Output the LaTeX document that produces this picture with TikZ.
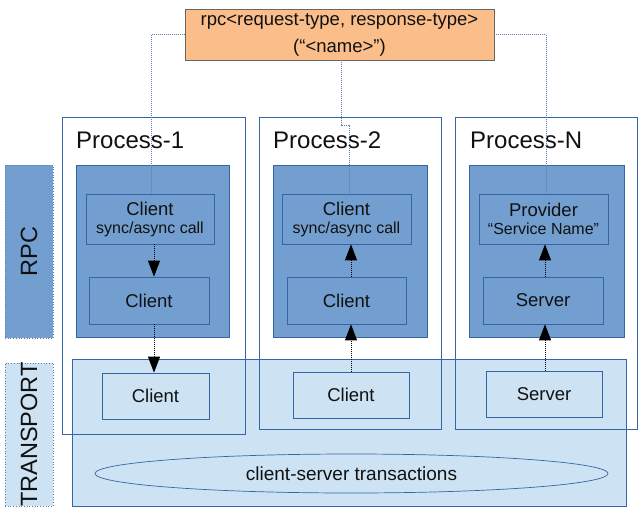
\documentclass[tikz,border=0pt]{standalone}
\usepackage{fontspec}
\setmainfont{Liberation Sans}
\usetikzlibrary{arrows.meta,shapes.geometric}
\definecolor{dblue}{HTML}{729FCF}
\definecolor{bord}{HTML}{3465A4}
\definecolor{lblue}{HTML}{CDE3F3}
\definecolor{orng}{HTML}{FBBE8A}
\definecolor{dotc}{HTML}{5B7DB1}
\definecolor{txt}{HTML}{111111}
\begin{document}
\begin{tikzpicture}[x=1pt,y=-1pt,
  wh/.style 2 args={minimum width=#1pt, minimum height=#2pt, inner sep=0pt},
  proc/.style={draw=bord, line width=0.7pt},
  dark/.style={draw=bord, fill=dblue, line width=0.7pt},
  inbox/.style={draw=bord, line width=0.7pt, text=txt, align=center, font=\fontsize{18.5}{20}\selectfont},
  tbox/.style={draw=bord, fill=lblue, line width=0.7pt, text=txt, align=center, font=\fontsize{18.5}{20}\selectfont},
  side/.style={draw=dotc, line width=0.7pt, dotted, text=txt},
  sidelab/.style={rotate=90, text=txt, font=\fontsize{23.5}{25}\selectfont, inner sep=0pt},
  title/.style={anchor=base west, inner sep=0pt, text=txt, font=\fontsize{24}{26}\selectfont},
  conn/.style={draw=dotc, line width=0.8pt, dash pattern=on 1pt off 1pt},
  arr/.style={draw=black, line width=0.8pt, dash pattern=on 1pt off 1pt, -{Triangle[length=16pt,width=12pt,fill=black]}}
]
\useasboundingbox (0,0) rectangle (642,514);
% transport band
\node[tbox, wh={554}{147}] (tr) at (349,432.5) {};
\node[draw=bord, fill=lblue, line width=0.7pt, ellipse, wh={513}{39}, text=txt, font=\fontsize{19}{20}\selectfont] (ell) at (351.5,473.5) {client-server transactions};
% side labels
\node[side, fill=dblue, wh={48}{173}] (rpcside) at (29,251.5) {};
\node[sidelab] (rpclab) at (rpcside.center) {RPC};
\node[side, fill=lblue, wh={48}{143}] (trside) at (29,434.5) {};
\node[sidelab] (trlab) at (trside.center) {TRANSPORT};
% process boxes
\node[proc, wh={183}{317}] (p1) at (153.5,275.5) {};
\node[proc, wh={182}{312}] (p2) at (350,273) {};
\node[proc, wh={182}{312}] (p3) at (546,273) {};
\node[title] (t1) at (76,148) {Process-1};
\node[title] (t2) at (273,148) {Process-2};
\node[title] (t3) at (470,148) {Process-N};
% rpc layer boxes
\node[dark, wh={153}{172}] (d1) at (152.5,251) {};
\node[dark, wh={154}{172}] (d2) at (350,251) {};
\node[dark, wh={155}{172}] (d3) at (546.5,251) {};
\node[inbox, wh={128}{50}] (u1) at (150,219) {Client\\[-2pt]{\fontsize{16}{17}\selectfont sync/async call}};
\node[inbox, wh={129}{50}] (u2) at (346.5,219) {Client\\[-2pt]{\fontsize{16}{17}\selectfont sync/async call}};
\node[inbox, wh={129}{50}] (u3) at (543.5,219) {Provider\\[-2pt]{\fontsize{16}{17}\selectfont “Service Name”}};
\node[inbox, wh={120}{47}] (l1) at (149,300.5) {Client};
\node[inbox, wh={119}{47}] (l2) at (346.5,300.5) {Client};
\node[inbox, wh={120}{47}] (l3) at (543,300.5) {Server};
% transport boxes
\node[tbox, wh={107}{46}] (c1) at (155.5,396) {Client};
\node[tbox, wh={116}{46}] (c2) at (351,395) {Client};
\node[tbox, wh={116}{46}] (c3) at (544,394) {Server};
% rpc definition
\node[draw=gray!80!black, fill=orng, line width=0.7pt, wh={309}{51}, align=center, text=txt, font=\fontsize{18.5}{27}\selectfont] (rpc) at (339.5,34.5) {rpc<request-type, response-type>\\(“<name>”)};
% connector x positions
\coordinate (x1) at (151,0);
\coordinate (x2a) at (341,0);
\coordinate (x2b) at (349,0);
\coordinate (x3) at (546,0);
\coordinate (jog) at (341,125);
\coordinate (a1) at (154,0);
\coordinate (a2) at (351,0);
\coordinate (a3) at (545,0);
% dotted connectors from rpc
\draw[conn] (rpc.west) -| (u1.north -| x1);
\draw[conn] (rpc.south -| x2a) -- (jog) -- (jog -| x2b) -- (u2.north -| x2b);
\draw[conn] (rpc.east) -| (u3.north -| x3);
% arrows
\draw[arr] (u1.south -| a1) -- (l1.north -| a1);
\draw[arr] (l1.south -| a1) -- (c1.north -| a1);
\draw[arr] (c2.north -| a2) -- (l2.south -| a2);
\draw[arr] (l2.north -| a2) -- (u2.south -| a2);
\draw[arr] (c3.north -| a3) -- (l3.south -| a3);
\draw[arr] (l3.north -| a3) -- (u3.south -| a3);
\end{tikzpicture}
\end{document}
